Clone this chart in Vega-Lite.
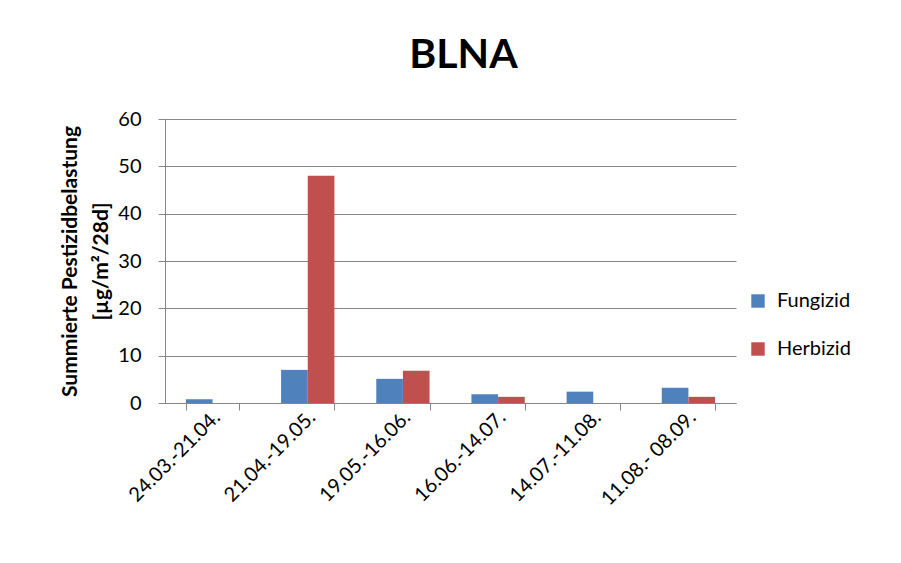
{
  "$schema": "https://vega.github.io/schema/vega-lite/v6.json",
  "width": 571,
  "height": 284,
  "autosize": {"type": "none"},
  "padding": {"left": 165, "top": 119, "right": 165, "bottom": 160},
  "background": "white",
  "title": {
    "text": "BLNA",
    "font": "Lato",
    "fontSize": 41,
    "fontWeight": "bold",
    "color": "black",
    "anchor": "middle",
    "dx": 13,
    "offset": 32
  },
  "data": {
    "values": [
      {"period": "24.03.-21.04.", "type": "Fungizid", "value": 0.8},
      {"period": "24.03.-21.04.", "type": "Herbizid", "value": 0},
      {"period": "21.04.-19.05.", "type": "Fungizid", "value": 7.0},
      {"period": "21.04.-19.05.", "type": "Herbizid", "value": 48.0},
      {"period": "19.05.-16.06.", "type": "Fungizid", "value": 5.1},
      {"period": "19.05.-16.06.", "type": "Herbizid", "value": 6.8},
      {"period": "16.06.-14.07.", "type": "Fungizid", "value": 1.85},
      {"period": "16.06.-14.07.", "type": "Herbizid", "value": 1.3},
      {"period": "14.07.-11.08.", "type": "Fungizid", "value": 2.4},
      {"period": "14.07.-11.08.", "type": "Herbizid", "value": 0},
      {"period": "11.08.- 08.09.", "type": "Fungizid", "value": 3.2},
      {"period": "11.08.- 08.09.", "type": "Herbizid", "value": 1.3}
    ]
  },
  "mark": {"type": "bar"},
  "encoding": {
    "x": {
      "field": "period",
      "type": "nominal",
      "sort": null,
      "scale": {"paddingInner": 0.44, "paddingOuter": 0.22},
      "axis": {
        "title": null,
        "labelAngle": -45,
        "labelAlign": "right",
        "labelBaseline": "middle",
        "labelFont": "Lato",
        "labelFontSize": 20,
        "labelColor": "black",
        "labelPadding": 4,
        "labelOffset": 4,
        "tickBand": "extent",
        "tickSize": 7,
        "tickColor": "#868686",
        "domainColor": "#868686",
        "grid": false
      }
    },
    "xOffset": {"field": "type", "type": "nominal", "sort": ["Fungizid", "Herbizid"]},
    "y": {
      "field": "value",
      "type": "quantitative",
      "scale": {"domain": [0, 60], "nice": false},
      "axis": {
        "values": [0, 10, 20, 30, 40, 50, 60],
        "title": ["Summierte Pestizidbelastung", "[µg/m²/28d]"],
        "titleFont": "Lato",
        "titleFontSize": 21,
        "titleFontWeight": "bold",
        "titleColor": "black",
        "titlePadding": 6,
        "titleLineHeight": 31,
        "labelFont": "Lato",
        "labelFontSize": 20,
        "labelColor": "black",
        "labelPadding": 17,
        "tickSize": 7,
        "tickColor": "#868686",
        "domainColor": "#868686",
        "gridColor": "#868686",
        "grid": true
      }
    },
    "color": {
      "field": "type",
      "type": "nominal",
      "scale": {"domain": ["Fungizid", "Herbizid"], "range": ["#4F81BD", "#C0504D"]},
      "legend": {
        "title": null,
        "orient": "none",
        "legendX": 583,
        "legendY": 172,
        "symbolType": "square",
        "symbolSize": 180,
        "symbolStrokeWidth": 0,
        "labelFont": "Lato",
        "labelFontSize": 20,
        "labelColor": "black",
        "rowPadding": 28,
        "labelOffset": 9
      }
    }
  },
  "config": {"view": {"stroke": null}}
}
